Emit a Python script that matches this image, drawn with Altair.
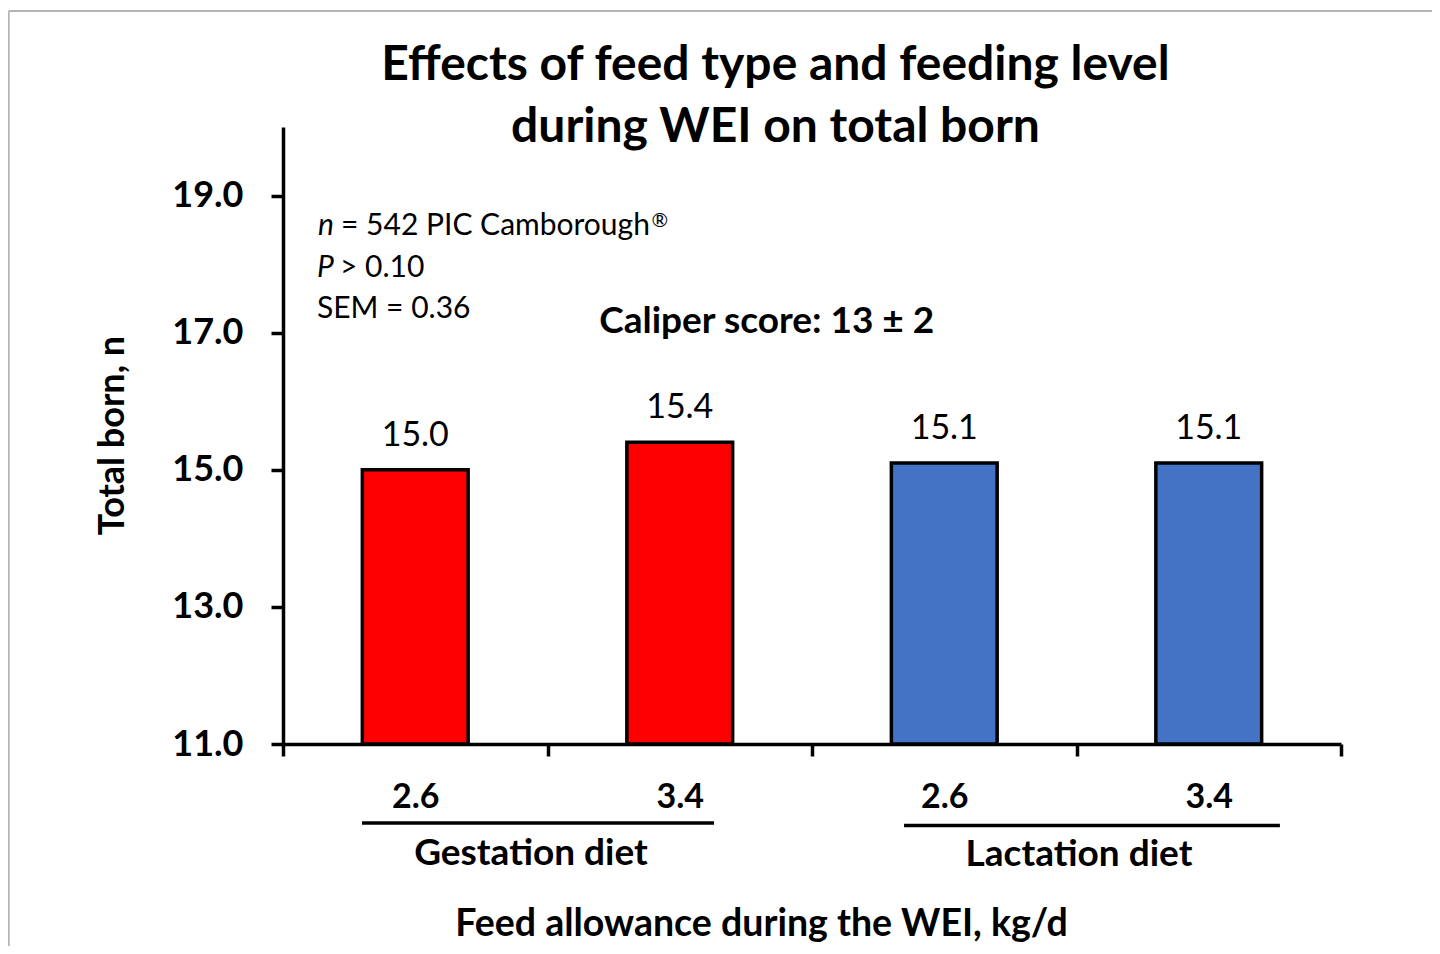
import altair as alt
import pandas as pd

# ---------------- data ----------------
diets = ["Gestation diet", "Gestation diet", "Lactation diet", "Lactation diet"]
levels = ["2.6", "3.4", "2.6", "3.4"]
total_born = [15.0, 15.4, 15.1, 15.1]
diet_names = ["Gestation diet", "Lactation diet"]
diet_colors = ["#FF0000", "#4472C4"]
y_ticks = [11, 13, 15, 17, 19]

title_lines = ["Effects of feed type and feeding level", "during WEI on total born"]
italic_marks = ["n", "P"]
note_texts = ["= 542 PIC Camborough", "> 0.10", "SEM = 0.36"]
reg_mark = ["®"]
caliper_text = ["Caliper score: 13 ± 2"]
x_title = "Feed allowance during the WEI, kg/d"
y_title = "Total born, n"

# ---------------- layout (annotation positions in data units) ----------------
FONT = "Lato"
W, H = 1058, 617
Y_DOMAIN = [11, 20]
X_DOMAIN = [0, 4]

keys = [f"{d}|{l}" for d, l in zip(diets, levels)]
df = pd.DataFrame({"key": keys, "diet": diets, "level": levels, "total": total_born})

title_df = pd.DataFrame({"text": title_lines, "x": [1.862, 1.862], "y": [20.686, 19.781]})
ital_df = pd.DataFrame({"text": italic_marks, "x": [0.1323, 0.1285], "y": [18.425, 17.812]})
note_df = pd.DataFrame({"text": note_texts, "x": [0.2193, 0.2155, 0.1285], "y": [18.425, 17.812, 17.214]})
reg_df = pd.DataFrame({"text": reg_mark, "x": [1.3936], "y": [18.54]})
cal_df = pd.DataFrame({"text": caliper_text, "x": [1.829], "y": [16.995]})
grp_df = pd.DataFrame({"text": diet_names, "x": [0.9376, 3.0095], "y": [9.236, 9.221],
                       "x0": [0.2987, 2.348], "x1": [1.6295, 3.769], "ly": [9.848, 9.812]})
border_df = pd.DataFrame({"x0": [-1.037, -1.037], "x1": [4.36, -1.037],
                          "y0": [21.692, 21.692], "y1": [21.692, 7.95]})

yscale = alt.Scale(domain=Y_DOMAIN, nice=False, zero=False)
yaxis = alt.Axis(values=y_ticks, format=".1f", grid=False,
                 labelFont=FONT, labelFontWeight="bold", labelFontSize=36, labelColor="black",
                 labelPadding=28, tickSize=12, tickWidth=3.5, tickColor="black",
                 domainWidth=3.5, domainColor="black",
                 title=y_title, titleFont=FONT, titleFontWeight="bold", titleFontSize=36,
                 titleColor="black", titleAngle=270, titleX=-160, titleY=308,
                 titleAlign="center", titleBaseline="alphabetic")
xscale = alt.Scale(domain=keys, paddingInner=0, paddingOuter=0)
xaxis = alt.Axis(tickBand="extent", labelExpr="split(datum.label, '|')[1]", labelAngle=0,
                 labelFont=FONT, labelFontWeight="bold", labelFontSize=34, labelColor="black",
                 labelBaseline="alphabetic", labelPadding=51, grid=False,
                 tickSize=12, tickWidth=3.5, tickColor="black",
                 domainWidth=3.5, domainColor="black",
                 title=x_title, titleFont=FONT, titleFontWeight="bold", titleFontSize=37.5,
                 titleColor="black", titleX=478, titleY=191,
                 titleAlign="center", titleBaseline="alphabetic")
qx = alt.Scale(domain=X_DOMAIN, nice=False, zero=False)


def yq(field):
    return alt.Y(field, type="quantitative", scale=yscale, axis=yaxis)


def xq(field):
    return alt.X(field, type="quantitative", scale=qx, axis=None)


def label_layer(data, size, weight="normal", style="normal", align="center"):
    return alt.Chart(data).mark_text(font=FONT, fontSize=size, fontWeight=weight, fontStyle=style,
                                     align=align, baseline="alphabetic", color="black").encode(
        x=xq("x"), y=yq("y"), text="text:N")


bars = alt.Chart(df).mark_bar(width={"band": 0.4}, stroke="black", strokeWidth=3.5).encode(
    x=alt.X("key:N", scale=xscale, axis=xaxis, sort=keys),
    y=yq("total"),
    y2=alt.datum(11),
    color=alt.Color("diet:N", scale=alt.Scale(domain=diet_names, range=diet_colors), legend=None),
)

values = alt.Chart(df).mark_text(font=FONT, fontSize=34, dy=-24, baseline="alphabetic",
                                 color="black").encode(
    x=alt.X("key:N", scale=xscale, axis=None, sort=keys),
    y=yq("total"),
    text=alt.Text("total:Q", format=".1f"),
)

title = label_layer(title_df, 48, weight="bold")
ital = label_layer(ital_df, 30, style="italic", align="left")
notes = label_layer(note_df, 30, align="left")
reg = label_layer(reg_df, 20, align="left")
caliper = label_layer(cal_df, 37, weight="bold")
grp_text = label_layer(grp_df, 37, weight="bold")

grp_line = alt.Chart(grp_df).mark_rule(color="black", strokeWidth=3.5).encode(
    x=xq("x0"), x2="x1", y=yq("ly"))

border = alt.Chart(border_df).mark_rule(color="#B4B4B4", strokeWidth=2).encode(
    x=xq("x0"), x2="x1", y=yq("y0"), y2="y1")

chart = alt.layer(border, bars, values, title, ital, notes, reg, caliper, grp_line, grp_text).resolve_scale(
    x="independent"
).properties(
    width=W, height=H,
    autosize=alt.AutoSizeParams(type="none"),
    padding={"left": 275, "top": 119, "right": 91, "bottom": 202},
    background="white",
).configure_view(stroke=None)

chart.save("out.html", embed_options={"renderer": "svg", "actions": False})
